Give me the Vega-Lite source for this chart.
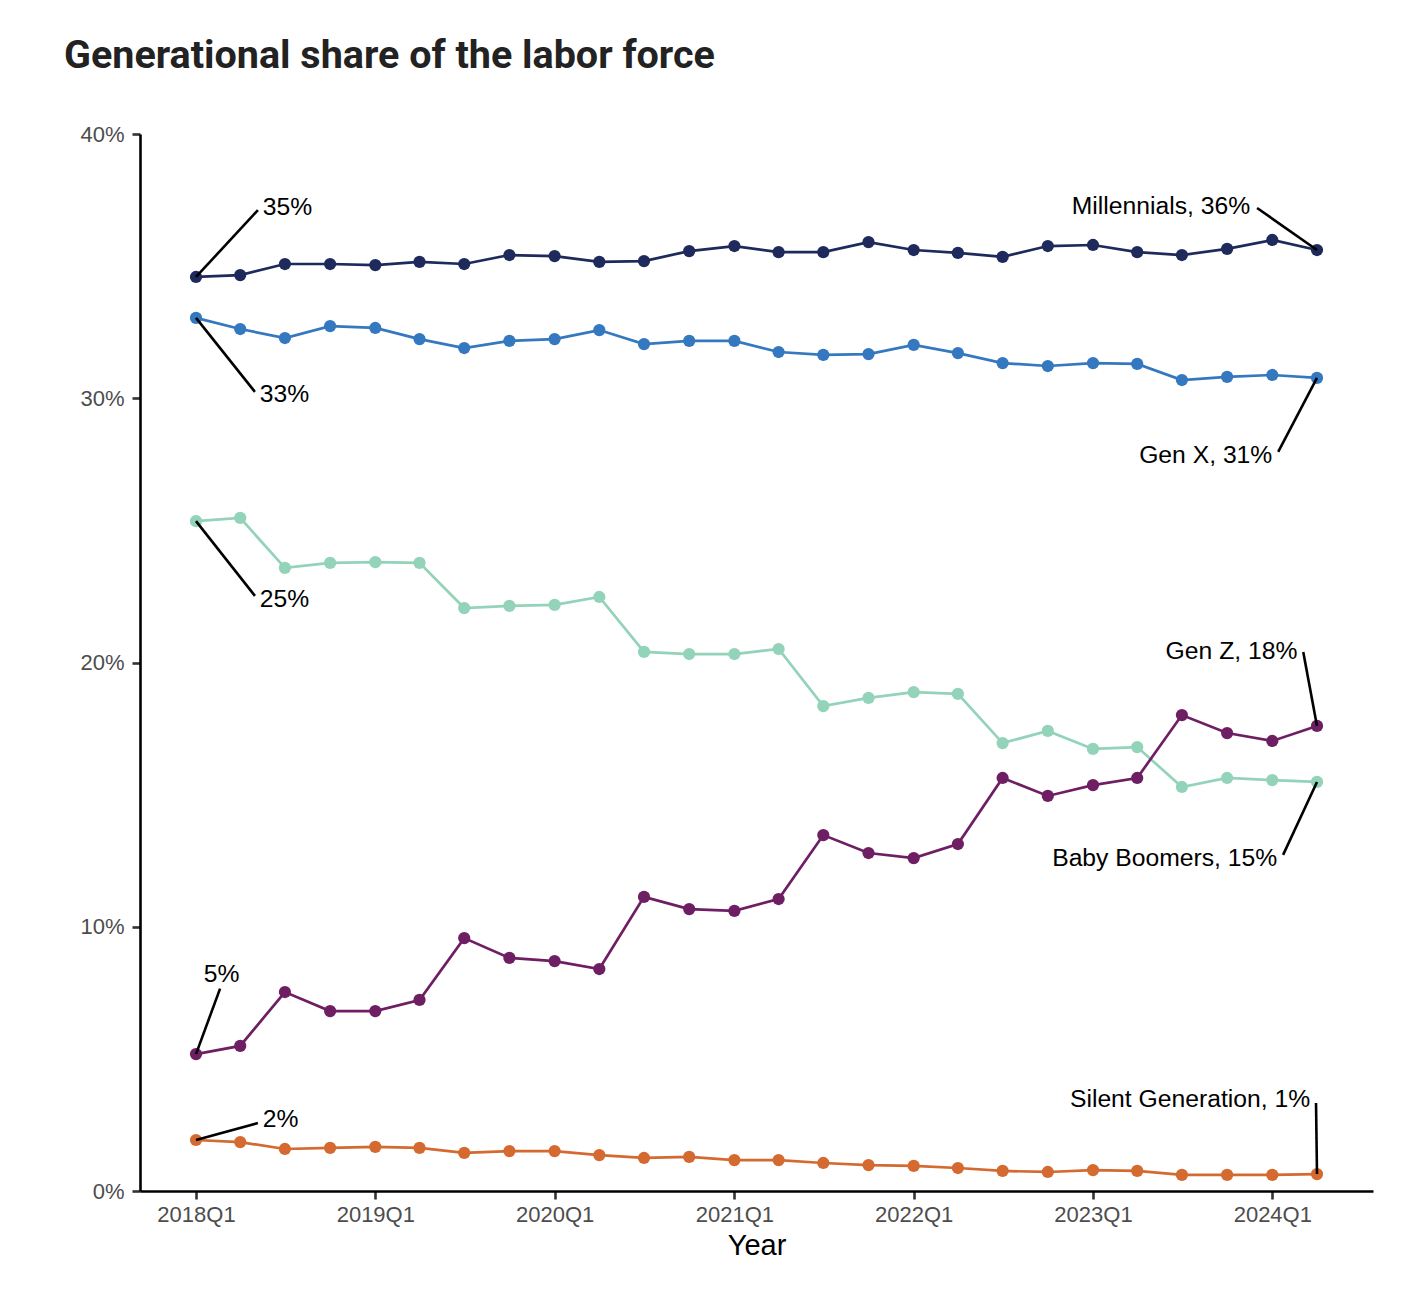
{
  "$schema": "https://vega.github.io/schema/vega-lite/v6.json",
  "autosize": {"type": "none"},
  "width": 1233,
  "height": 1057,
  "padding": {"left": 140, "top": 134, "right": 47, "bottom": 119},
  "background": "white",
  "title": {
    "text": "Generational share of the labor force",
    "anchor": "start",
    "frame": "group",
    "dx": -76,
    "offset": 47,
    "font": "Roboto",
    "fontSize": 39.5,
    "fontWeight": "bold",
    "color": "#222222"
  },
  "datasets": {
    "shares": [
      {"date": "2018-01-01", "Millennials": 34.59, "Gen X": 33.04, "Baby Boomers": 25.35, "Gen Z": 5.18, "Silent Generation": 1.93},
      {"date": "2018-04-01", "Millennials": 34.66, "Gen X": 32.62, "Baby Boomers": 25.47, "Gen Z": 5.49, "Silent Generation": 1.85},
      {"date": "2018-07-01", "Millennials": 35.08, "Gen X": 32.28, "Baby Boomers": 23.58, "Gen Z": 7.53, "Silent Generation": 1.59},
      {"date": "2018-10-01", "Millennials": 35.08, "Gen X": 32.73, "Baby Boomers": 23.77, "Gen Z": 6.81, "Silent Generation": 1.63},
      {"date": "2019-01-01", "Millennials": 35.04, "Gen X": 32.66, "Baby Boomers": 23.80, "Gen Z": 6.81, "Silent Generation": 1.67},
      {"date": "2019-04-01", "Millennials": 35.16, "Gen X": 32.24, "Baby Boomers": 23.77, "Gen Z": 7.23, "Silent Generation": 1.63},
      {"date": "2019-07-01", "Millennials": 35.08, "Gen X": 31.90, "Baby Boomers": 22.06, "Gen Z": 9.57, "Silent Generation": 1.44},
      {"date": "2019-10-01", "Millennials": 35.42, "Gen X": 32.17, "Baby Boomers": 22.14, "Gen Z": 8.82, "Silent Generation": 1.51},
      {"date": "2020-01-01", "Millennials": 35.38, "Gen X": 32.24, "Baby Boomers": 22.18, "Gen Z": 8.70, "Silent Generation": 1.51},
      {"date": "2020-04-01", "Millennials": 35.16, "Gen X": 32.58, "Baby Boomers": 22.48, "Gen Z": 8.40, "Silent Generation": 1.36},
      {"date": "2020-07-01", "Millennials": 35.19, "Gen X": 32.05, "Baby Boomers": 20.40, "Gen Z": 11.13, "Silent Generation": 1.25},
      {"date": "2020-10-01", "Millennials": 35.57, "Gen X": 32.17, "Baby Boomers": 20.32, "Gen Z": 10.67, "Silent Generation": 1.29},
      {"date": "2021-01-01", "Millennials": 35.76, "Gen X": 32.17, "Baby Boomers": 20.32, "Gen Z": 10.60, "Silent Generation": 1.17},
      {"date": "2021-04-01", "Millennials": 35.53, "Gen X": 31.75, "Baby Boomers": 20.51, "Gen Z": 11.05, "Silent Generation": 1.17},
      {"date": "2021-07-01", "Millennials": 35.53, "Gen X": 31.64, "Baby Boomers": 18.35, "Gen Z": 13.47, "Silent Generation": 1.06},
      {"date": "2021-10-01", "Millennials": 35.91, "Gen X": 31.67, "Baby Boomers": 18.66, "Gen Z": 12.79, "Silent Generation": 0.98},
      {"date": "2022-01-01", "Millennials": 35.61, "Gen X": 32.02, "Baby Boomers": 18.88, "Gen Z": 12.60, "Silent Generation": 0.95},
      {"date": "2022-04-01", "Millennials": 35.50, "Gen X": 31.71, "Baby Boomers": 18.81, "Gen Z": 13.13, "Silent Generation": 0.87},
      {"date": "2022-07-01", "Millennials": 35.35, "Gen X": 31.33, "Baby Boomers": 16.95, "Gen Z": 15.63, "Silent Generation": 0.76},
      {"date": "2022-10-01", "Millennials": 35.76, "Gen X": 31.22, "Baby Boomers": 17.41, "Gen Z": 14.95, "Silent Generation": 0.72},
      {"date": "2023-01-01", "Millennials": 35.80, "Gen X": 31.33, "Baby Boomers": 16.73, "Gen Z": 15.36, "Silent Generation": 0.79},
      {"date": "2023-04-01", "Millennials": 35.53, "Gen X": 31.30, "Baby Boomers": 16.80, "Gen Z": 15.63, "Silent Generation": 0.76},
      {"date": "2023-07-01", "Millennials": 35.42, "Gen X": 30.69, "Baby Boomers": 15.29, "Gen Z": 18.01, "Silent Generation": 0.61},
      {"date": "2023-10-01", "Millennials": 35.65, "Gen X": 30.81, "Baby Boomers": 15.63, "Gen Z": 17.33, "Silent Generation": 0.61},
      {"date": "2024-01-01", "Millennials": 35.99, "Gen X": 30.88, "Baby Boomers": 15.55, "Gen Z": 17.03, "Silent Generation": 0.61},
      {"date": "2024-04-01", "Millennials": 35.61, "Gen X": 30.77, "Baby Boomers": 15.48, "Gen Z": 17.60, "Silent Generation": 0.64}
    ],
    "notes": [
      {"gen": "Millennials", "side": "start", "label": "35%", "tx": "2018-05-17", "ty": 37.20, "lx": "2018-05-07", "ly": 37.12, "px": "2018-01-01", "py": 34.59},
      {"gen": "Gen X", "side": "start", "label": "33%", "tx": "2018-05-11", "ty": 30.12, "lx": "2018-05-01", "ly": 30.24, "px": "2018-01-01", "py": 33.04},
      {"gen": "Baby Boomers", "side": "start", "label": "25%", "tx": "2018-05-11", "ty": 22.37, "lx": "2018-05-01", "ly": 22.52, "px": "2018-01-01", "py": 25.35},
      {"gen": "Gen Z", "side": "start", "label": "5%", "tx": "2018-01-17", "ty": 8.17, "lx": "2018-02-19", "ly": 7.66, "px": "2018-01-01", "py": 5.18},
      {"gen": "Silent Generation", "side": "start", "label": "2%", "tx": "2018-05-17", "ty": 2.69, "lx": "2018-05-07", "ly": 2.57, "px": "2018-01-01", "py": 1.93},
      {"gen": "Millennials", "side": "end", "label": "Millennials, 36%", "tx": "2023-11-17", "ty": 37.24, "lx": "2023-12-01", "ly": 37.20, "px": "2024-04-01", "py": 35.61},
      {"gen": "Gen X", "side": "end", "label": "Gen X, 31%", "tx": "2024-01-01", "ty": 27.81, "lx": "2024-01-13", "ly": 27.97, "px": "2024-04-01", "py": 30.77},
      {"gen": "Gen Z", "side": "end", "label": "Gen Z, 18%", "tx": "2024-02-21", "ty": 20.40, "lx": "2024-03-04", "ly": 20.40, "px": "2024-04-01", "py": 17.60},
      {"gen": "Baby Boomers", "side": "end", "label": "Baby Boomers, 15%", "tx": "2024-01-11", "ty": 12.56, "lx": "2024-01-23", "ly": 12.72, "px": "2024-04-01", "py": 15.48},
      {"gen": "Silent Generation", "side": "end", "label": "Silent Generation, 1%", "tx": "2024-03-18", "ty": 3.44, "lx": "2024-03-30", "ly": 3.33, "px": "2024-04-01", "py": 0.64}
    ]
  },
  "layer": [
    {
      "data": {"name": "shares"},
      "transform": [
        {"fold": ["Baby Boomers", "Gen X", "Gen Z", "Millennials", "Silent Generation"], "as": ["gen", "share"]}
      ],
      "encoding": {
        "x": {
          "field": "date",
          "type": "temporal",
          "title": "Year",
          "scale": {
            "type": "utc",
            "domain": [
              {"year": 2017, "month": 9, "date": 9, "utc": true},
              {"year": 2024, "month": 7, "date": 24, "utc": true}
            ]
          },
          "axis": {
            "values": [
              {"year": 2018, "month": 1, "date": 1, "utc": true},
              {"year": 2019, "month": 1, "date": 1, "utc": true},
              {"year": 2020, "month": 1, "date": 1, "utc": true},
              {"year": 2021, "month": 1, "date": 1, "utc": true},
              {"year": 2022, "month": 1, "date": 1, "utc": true},
              {"year": 2023, "month": 1, "date": 1, "utc": true},
              {"year": 2024, "month": 1, "date": 1, "utc": true}
            ],
            "labelExpr": "utcFormat(datum.value, '%Y') + 'Q' + (floor(utcmonth(datum.value) / 3) + 1)",
            "labelPadding": 5,
            "titleFont": "Liberation Sans",
            "titleFontSize": 29,
            "titleFontWeight": "normal",
            "titleColor": "#000000",
            "titlePadding": 6
          }
        },
        "y": {
          "field": "share",
          "type": "quantitative",
          "title": null,
          "scale": {"domain": [0, 40], "nice": false, "zero": true},
          "axis": {
            "values": [0, 10, 20, 30, 40],
            "labelExpr": "datum.value + '%'",
            "labelPadding": 8
          }
        },
        "color": {
          "field": "gen",
          "type": "nominal",
          "legend": null,
          "scale": {
            "domain": ["Baby Boomers", "Gen X", "Gen Z", "Millennials", "Silent Generation"],
            "range": ["#93d3b9", "#3478c0", "#6e1f63", "#1d2a5b", "#d46a30"]
          }
        }
      },
      "layer": [
        {"mark": {"type": "line", "strokeWidth": 2.7}},
        {"mark": {"type": "point", "filled": true, "size": 150, "opacity": 1}}
      ]
    },
    {
      "data": {"name": "notes"},
      "mark": {"type": "rule", "color": "#000000", "strokeWidth": 2.6},
      "encoding": {
        "x": {"field": "lx", "type": "temporal", "title": "Year"},
        "y": {"field": "ly", "type": "quantitative", "title": null},
        "x2": {"field": "px"},
        "y2": {"field": "py"}
      }
    },
    {
      "data": {"name": "notes"},
      "transform": [{"filter": "datum.side === 'start'"}],
      "mark": {"type": "text", "align": "left", "baseline": "middle", "font": "Liberation Sans", "fontSize": 24.7, "color": "#000000"},
      "encoding": {
        "x": {"field": "tx", "type": "temporal", "title": "Year"},
        "y": {"field": "ty", "type": "quantitative", "title": null},
        "text": {"field": "label", "type": "nominal"}
      }
    },
    {
      "data": {"name": "notes"},
      "transform": [{"filter": "datum.side === 'end'"}],
      "mark": {"type": "text", "align": "right", "baseline": "middle", "font": "Liberation Sans", "fontSize": 24.7, "color": "#000000"},
      "encoding": {
        "x": {"field": "tx", "type": "temporal", "title": "Year"},
        "y": {"field": "ty", "type": "quantitative", "title": null},
        "text": {"field": "label", "type": "nominal"}
      }
    }
  ],
  "config": {
    "view": {"stroke": null},
    "axis": {
      "grid": false,
      "domainColor": "#000000",
      "domainWidth": 2.6,
      "tickColor": "#333333",
      "tickWidth": 2.6,
      "tickSize": 8,
      "labelFont": "Liberation Sans",
      "labelFontSize": 22,
      "labelColor": "#4d4d4d"
    }
  }
}
